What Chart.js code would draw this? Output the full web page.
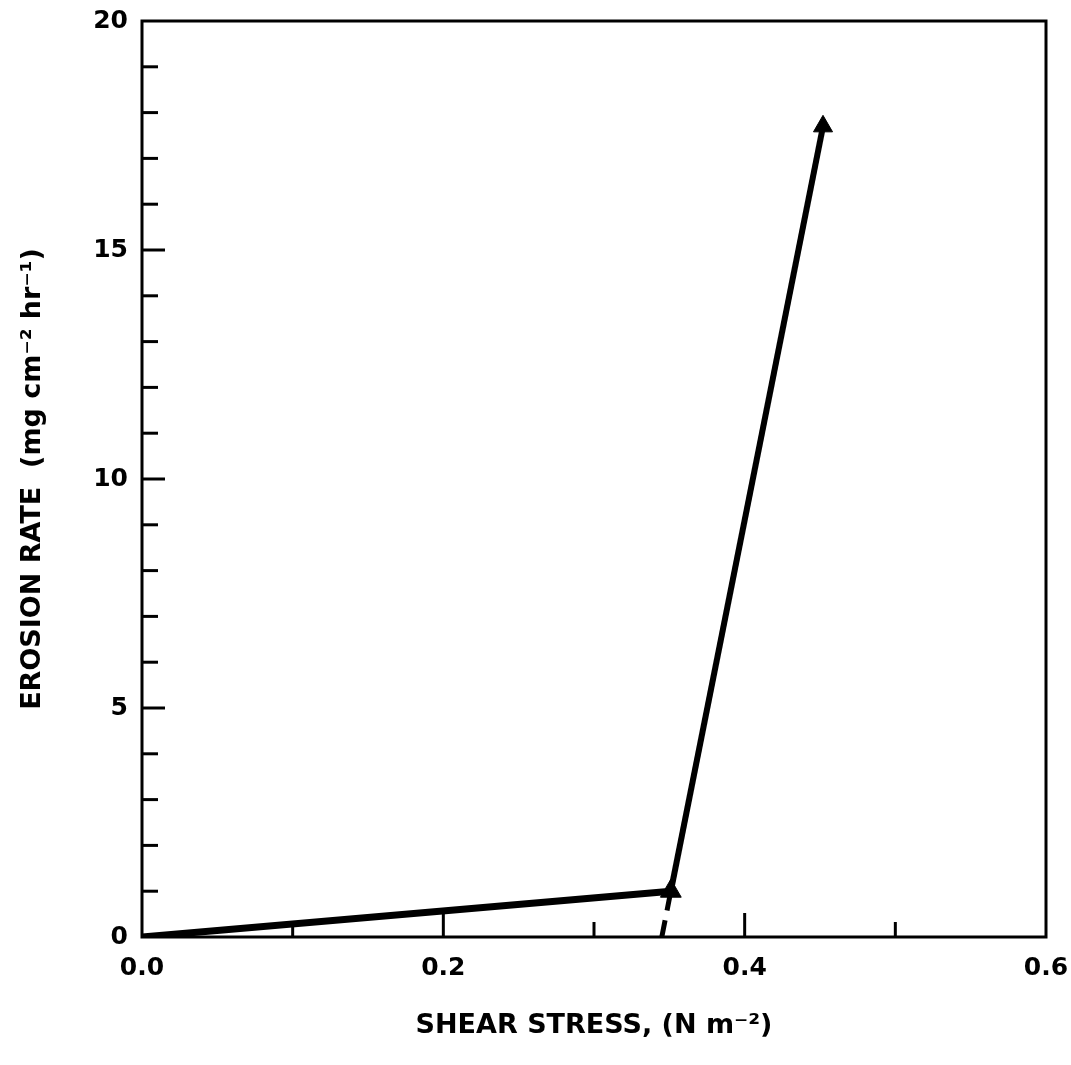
<!DOCTYPE html>
<html>
<head>
<meta charset="utf-8">
<script src="https://cdn.jsdelivr.net/npm/chart.js@4.4.1/dist/chart.umd.min.js"></script>
<style>
  body{margin:0;background:#fff;}
  canvas{display:block;}
</style>
</head>
<body>
<canvas id="grafica" width="1071" height="1065"></canvas>
<script>
// datos
const shear = [0, 0.351, 0.452];
const erosion = [0, 1.0, 17.7];
const dashShear = [0.345, 0.351];
const dashErosion = [0, 1.0];
const xLabeled = [0, 0.2, 0.4, 0.6];
const yLabeled = [0, 5, 10, 15, 20];

const FONT = "'DejaVu Sans', 'Liberation Sans', Arial, sans-serif";

function sinPadding(scale){
    scale.paddingTop = 0;
    scale.paddingBottom = 0;
    scale.paddingLeft = 0;
    scale.paddingRight = 0;
}

// marco completo y marcas hacia dentro
const boxTicks = {
    id: 'boxTicks',
    afterDraw(chart){
        const {ctx, chartArea: a, scales: {x, y}} = chart;
        ctx.save();
        ctx.strokeStyle = '#000';
        ctx.lineWidth = 3;
        ctx.strokeRect(a.left, a.top, a.right - a.left, a.bottom - a.top);
        x.ticks.forEach(t => {
            if (t.value <= x.min + 1e-9 || t.value >= x.max - 1e-9) return;
            let px = x.getPixelForValue(t.value);
            let major = Math.round(t.value * 10) % 2 == 0;
            ctx.beginPath();
            ctx.moveTo(px, a.bottom);
            ctx.lineTo(px, a.bottom - (major ? 24 : 15));
            ctx.stroke();
        });
        y.ticks.forEach(t => {
            if (t.value <= y.min || t.value >= y.max) return;
            let py = y.getPixelForValue(t.value);
            let major = Math.round(t.value) % 5 == 0;
            ctx.beginPath();
            ctx.moveTo(a.left, py);
            ctx.lineTo(a.left + (major ? 23 : 16), py);
            ctx.stroke();
        });
        ctx.restore();
    }
};

new Chart(document.getElementById("grafica"), {
    type: 'scatter',
    data: {
        datasets: [{
            label: 'Erosion',
            data: shear.map((s, i) => ({x: s, y: erosion[i]})),
            showLine: true,
            borderColor: '#000',
            backgroundColor: '#000',
            borderWidth: 6,
            segment: {
                borderWidth: c => c.p0DataIndex == 0 ? 7 : 6
            },
            pointStyle: 'triangle',
            pointRadius: [0, 12, 11],
            pointBorderWidth: 1,
            pointHoverRadius: [0, 12, 11]
        },{
            label: 'Extrapolacion',
            data: dashShear.map((s, i) => ({x: s, y: dashErosion[i]})),
            showLine: true,
            borderColor: '#000',
            borderWidth: 5,
            borderDash: [17, 10],
            pointRadius: 0
        }]
    },
    options: {
        responsive: false,
        animation: false,
        layout: {padding: {left: 0, right: 25, top: 21, bottom: 0}},
        plugins: {legend: {display: false}, tooltip: {enabled: false}},
        scales: {
            x: {
                type: 'linear',
                min: 0, max: 0.6,
                grid: {display: false},
                border: {display: false},
                afterFit(scale){ scale.height = 128; sinPadding(scale); },
                ticks: {
                    stepSize: 0.1,
                    autoSkip: false,
                    maxRotation: 0,
                    padding: 8,
                    color: '#000',
                    font: {family: FONT, size: 25, weight: 'bold'},
                    callback: v => xLabeled.some(l => Math.abs(l - v) < 1e-6) ? v.toFixed(1) : ''
                },
                title: {
                    display: true,
                    text: 'SHEAR STRESS, (N m\u207B\u00B2)',
                    color: '#000',
                    font: {family: FONT, size: 27, weight: 'bold'},
                    padding: {top: 0, bottom: 23}
                }
            },
            y: {
                min: 0, max: 20,
                grid: {display: false},
                border: {display: false},
                afterFit(scale){ scale.width = 142; sinPadding(scale); },
                ticks: {
                    stepSize: 1,
                    autoSkip: false,
                    padding: 6,
                    color: '#000',
                    font: {family: FONT, size: 25, weight: 'bold'},
                    callback: v => yLabeled.includes(v) ? v : ''
                },
                title: {
                    display: true,
                    text: 'EROSION RATE  (mg cm\u207B\u00B2 hr\u207B\u00B9)',
                    color: '#000',
                    font: {family: FONT, size: 27, weight: 'bold'},
                    padding: {top: 17, bottom: 0}
                }
            }
        }
    },
    plugins: [boxTicks]
});
</script>
</body>
</html>
